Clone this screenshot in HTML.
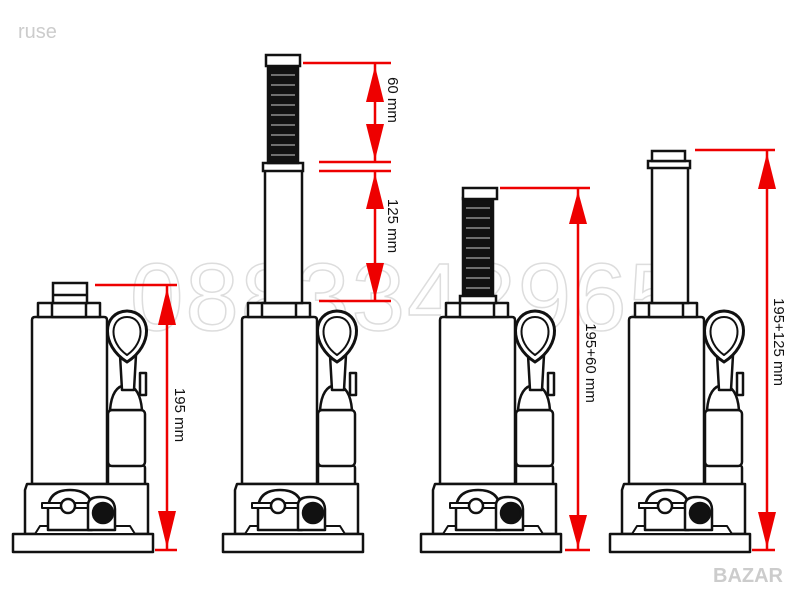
<!DOCTYPE html>
<html><head><meta charset="utf-8"><style>
html,body{margin:0;padding:0;background:#fff;width:800px;height:600px;overflow:hidden}
svg{display:block}
</style></head><body>
<svg width="800" height="600" viewBox="0 0 800 600" xmlns="http://www.w3.org/2000/svg">
<defs>
<g id="body" fill="#fff" stroke="#111" stroke-width="2.5" stroke-linejoin="round">
  <rect x="108" y="465" width="37" height="22" rx="3"/>
  <rect x="108" y="410" width="37" height="56" rx="4"/>
  <path d="M110 410 Q112 386 126 385 Q140 386 142 410 Z"/>
  <rect x="140" y="373" width="6" height="22"/>
  <path d="M120 355 L122 390 L134 390 L136 355 Z"/>
  <path d="M127 362 C100 345 102 312 127 311 C152 312 154 345 127 362 Z" stroke-width="3"/>
  <path d="M127 355 C108 342 110 317 127 317 C144 317 146 342 127 355 Z" stroke-width="2"/>
  <path d="M32 320 Q32 317 35 317 L104 317 Q107 317 107 320 L107 484 L32 484 Z"/>
  <path d="M27 484 L148 484 L148 534 L25 534 L25 490 Z"/>
  <rect x="13" y="534" width="140" height="18"/>
  <path d="M40 526 L130 526 L135 534 L35 534 Z" stroke-width="2"/>
  <path d="M48 510 Q48 490 70 490 Q92 490 92 510 L92 530 L48 530 Z"/>
  <rect x="42" y="503" width="50" height="5" stroke-width="2"/>
  <circle cx="68" cy="506" r="7"/>
  <path d="M88 505 Q88 497 100 497 Q115 497 115 510 L115 530 L88 530 Z"/>
  <circle cx="103" cy="513" r="10" fill="#111"/>
  <rect x="38" y="303" width="62" height="14"/>
  <rect x="52" y="303" width="34" height="14"/>
</g>
</defs>

<text x="130" y="330" font-family="Liberation Sans, sans-serif" font-size="96" fill="none" stroke="#ddd" stroke-width="1.5" letter-spacing="2">0883342965</text>
<text x="18" y="38" font-family="Liberation Sans, sans-serif" font-size="20" fill="#ccc">ruse</text>
<text x="713" y="582" font-family="Liberation Sans, sans-serif" font-size="20" font-weight="bold" fill="#ccc">BAZAR</text>

<use href="#body"/>
<g fill="#fff" stroke="#111" stroke-width="2.5">
  <rect x="53" y="283" width="34" height="20"/>
  <line x1="53" y1="295" x2="87" y2="295"/>
</g>

<use href="#body" transform="translate(210,0)"/>
<g fill="#fff" stroke="#111" stroke-width="2.5">
  <rect x="265" y="170" width="37" height="133"/>
  <rect x="263" y="163" width="40" height="8"/>
  <rect x="268" y="65" width="30" height="98" fill="#111"/>
  <rect x="266" y="55" width="34" height="11"/>
</g>
<g stroke="#ccc" stroke-width="1">
  <line x1="271" y1="75" x2="295" y2="75"/><line x1="271" y1="85" x2="295" y2="85"/><line x1="271" y1="95" x2="295" y2="95"/><line x1="271" y1="105" x2="295" y2="105"/><line x1="271" y1="115" x2="295" y2="115"/><line x1="271" y1="125" x2="295" y2="125"/><line x1="271" y1="135" x2="295" y2="135"/><line x1="271" y1="145" x2="295" y2="145"/><line x1="271" y1="155" x2="295" y2="155"/>
</g>

<use href="#body" transform="translate(408,0)"/>
<g fill="#fff" stroke="#111" stroke-width="2.5">
  <rect x="463" y="198" width="30" height="99" fill="#111"/>
  <rect x="463" y="188" width="34" height="11"/>
  <rect x="460" y="296" width="36" height="7"/>
</g>
<g stroke="#ccc" stroke-width="1">
  <line x1="466" y1="208" x2="490" y2="208"/><line x1="466" y1="218" x2="490" y2="218"/><line x1="466" y1="228" x2="490" y2="228"/><line x1="466" y1="238" x2="490" y2="238"/><line x1="466" y1="248" x2="490" y2="248"/><line x1="466" y1="258" x2="490" y2="258"/><line x1="466" y1="268" x2="490" y2="268"/><line x1="466" y1="278" x2="490" y2="278"/><line x1="466" y1="288" x2="490" y2="288"/>
</g>

<use href="#body" transform="translate(597,0)"/>
<g fill="#fff" stroke="#111" stroke-width="2.5">
  <rect x="652" y="167" width="36" height="136"/>
  <rect x="648" y="161" width="42" height="7"/>
  <rect x="652" y="151" width="33" height="10"/>
</g>

<g stroke="#e00" stroke-width="2.5" fill="#e00">
  <line x1="95" y1="285" x2="177" y2="285"/>
  <line x1="155" y1="550" x2="177" y2="550"/>
  <line x1="167" y1="285" x2="167" y2="550"/>
  <polygon points="167,288 158,325 176,325" stroke="none"/>
  <polygon points="167,548 158,511 176,511" stroke="none"/>
  <line x1="303" y1="63" x2="391" y2="63"/>
  <line x1="319" y1="162" x2="391" y2="162"/>
  <line x1="319" y1="171" x2="391" y2="171"/>
  <line x1="319" y1="301" x2="391" y2="301"/>
  <line x1="375" y1="63" x2="375" y2="162"/>
  <line x1="375" y1="171" x2="375" y2="301"/>
  <polygon points="375,66 366,102 384,102" stroke="none"/>
  <polygon points="375,160 366,124 384,124" stroke="none"/>
  <polygon points="375,173 366,209 384,209" stroke="none"/>
  <polygon points="375,299 366,263 384,263" stroke="none"/>
  <line x1="500" y1="188" x2="590" y2="188"/>
  <line x1="565" y1="550" x2="590" y2="550"/>
  <line x1="578" y1="188" x2="578" y2="550"/>
  <polygon points="578,191 569,224 587,224" stroke="none"/>
  <polygon points="578,548 569,515 587,515" stroke="none"/>
  <line x1="695" y1="150" x2="775" y2="150"/>
  <line x1="752" y1="550" x2="775" y2="550"/>
  <line x1="767" y1="150" x2="767" y2="550"/>
  <polygon points="767,153 758,189 776,189" stroke="none"/>
  <polygon points="767,548 758,512 776,512" stroke="none"/>
</g>

<g font-family="Liberation Sans, sans-serif" font-size="15" fill="#111">
  <text transform="translate(175,415) rotate(90)" text-anchor="middle">195 mm</text>
  <text transform="translate(388,100) rotate(90)" text-anchor="middle">60 mm</text>
  <text transform="translate(388,226) rotate(90)" text-anchor="middle">125 mm</text>
  <text transform="translate(586,363) rotate(90)" text-anchor="middle">195+60 mm</text>
  <text transform="translate(774,342) rotate(90)" text-anchor="middle">195+125 mm</text>
</g>
</svg>
</body></html>
